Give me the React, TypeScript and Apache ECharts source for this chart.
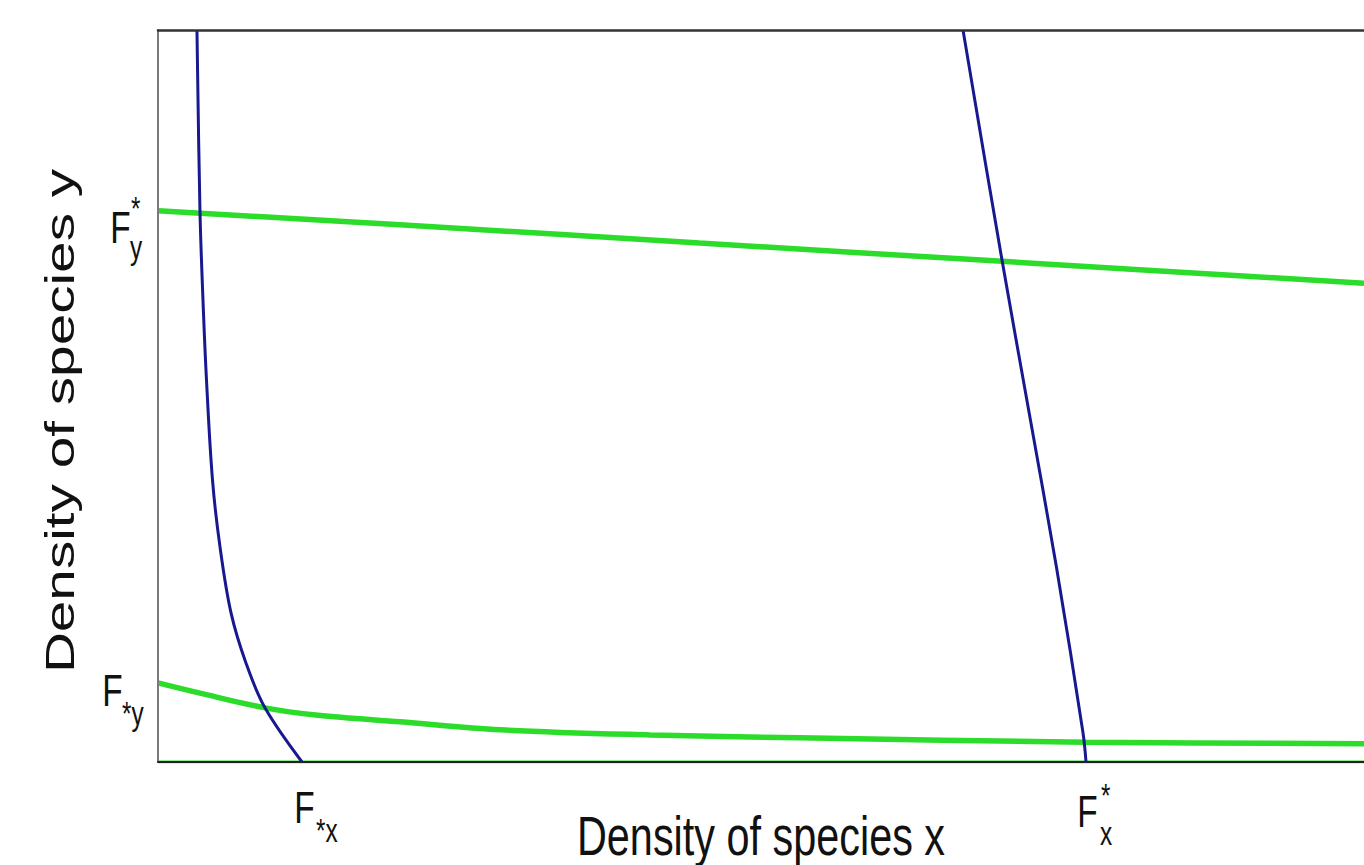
import React, { useEffect, useRef } from "react";
import * as echarts from "echarts";

// ---- Data (density units, both axes 0..100) ----
const xNullclineHigh: number[][] = [
  [3.23, 100], [3.48, 75.3], [3.73, 63.1], [4.02, 52.2], [4.52, 38.5],
  [5.14, 29.4], [6.05, 20.4], [7.3, 13.5], [8.87, 7.4], [11.94, 0],
];
const xNullclineLow: number[][] = [
  [66.75, 100], [69.98, 68.6], [72.3, 47.1], [74.5, 26.6], [76.7, 4.0], [76.95, 0],
];
const yNullclineHigh: number[][] = [
  [0, 75.3], [20.07, 73.4], [44.9, 70.9], [70.0, 68.4], [100, 65.4],
];
const yNullclineLow: number[][] = [
  [0, 10.8], [3.48, 9.4], [8.87, 7.4], [13.27, 6.4], [20.07, 5.5], [28.4, 4.4],
  [40.8, 3.7], [53.2, 3.3], [76.95, 2.7], [100, 2.5],
];
const yNullclineZero: number[][] = [[0, 0], [100, 0]];

// tick values and label parts
const xTickValues = [11.94, 76.95];
const xTickMain = ["F", "F"];
const xTickSup = ["", "*"];
const xTickSub = ["*x", "x"];
const yTickValues = [75.3, 10.8];
const yTickMain = ["F", "F"];
const yTickSup = ["*", ""];
const yTickSub = ["y", "*y"];

const xTitle = "Density of species x";
const yTitle = "Density of species y";

// ---- layout / style ----
const FONT = "'Liberation Sans', Arial, Helvetica, sans-serif";
const VS = 1.34; // vertical stretch of texts
const MAIN_SIZE = 33.4;
const SUB_SIZE = 24.4;
const CENTRAL = 0.3465;
const BLUE = "#181890";
const GREEN = "#2bdc2b";

// offsets: [dx, baselineDy] relative to tick pixel (x labels: from tick x / axis bottom; y labels: from axis left / tick y)
const xLabelLayout = [
  { main: [-7.7, 61], sup: [0, 0], sub: [14, 80] },
  { main: [-8.7, 65], sup: [15, 45], sub: [14, 83] },
];
const yLabelLayout = [
  { main: [-47.7, 32], sup: [-27, 9], sub: [-28, 48] },
  { main: [-55.7, 23], sup: [0, 0], sub: [-36, 42] },
];

function txt(text: string, x: number, baseline: number, size: number, extra: any = {}) {
  return {
    type: "text",
    x,
    y: baseline - CENTRAL * size * VS,
    scaleY: VS,
    silent: true,
    style: {
      text,
      fontSize: size,
      fontFamily: FONT,
      fill: "#111",
      align: "left",
      verticalAlign: "middle",
      textAlign: "left",
      textVerticalAlign: "middle",
    },
    ...extra,
  };
}

export default function App() {
  const ref = useRef<HTMLDivElement>(null);
  useEffect(() => {
    document.body.style.margin = "0";
    if (!ref.current) return;
    const chart = echarts.init(ref.current, null, { renderer: "svg" });
    const lineSeries = (name: string, data: number[][], color: string, width: number) => ({
      name,
      type: "line",
      data,
      smooth: 0.35,
      symbol: "none",
      showSymbol: false,
      clip: true,
      lineStyle: { color, width },
      itemStyle: { color },
    });
    chart.setOption({
      animation: false,
      backgroundColor: "#fff",
      grid: { left: 158, top: 30, right: 0, bottom: 103 },
      xAxis: [
        {
          type: "value", min: 0, max: 100, position: "bottom", z: 5,
          axisLine: { show: true, onZero: false, lineStyle: { color: "#222", width: 2 } },
          axisTick: { show: false }, axisLabel: { show: false }, splitLine: { show: false },
        },
        {
          type: "value", min: 0, max: 100, position: "top", z: 5,
          axisLine: { show: true, onZero: false, lineStyle: { color: "#333", width: 2.5 } },
          axisTick: { show: false }, axisLabel: { show: false }, splitLine: { show: false },
        },
      ],
      yAxis: {
        type: "value", min: 0, max: 100, z: 5,
        axisLine: { show: true, onZero: false, lineStyle: { color: "#7a7a7a", width: 2 } },
        axisTick: { show: false }, axisLabel: { show: false }, splitLine: { show: false },
      },
      series: [
        lineSeries("y-nullcline (y=0)", yNullclineZero, GREEN, 3),
        lineSeries("y-nullcline upper", yNullclineHigh, GREEN, 5.5),
        lineSeries("y-nullcline lower", yNullclineLow, GREEN, 5.5),
        lineSeries("x-nullcline left", xNullclineHigh, BLUE, 3),
        lineSeries("x-nullcline right", xNullclineLow, BLUE, 3),
      ],
    });

    const graphics: any[] = [];
    const origin = chart.convertToPixel({ gridIndex: 0 }, [0, 0]) as number[];
    const axisLeft = origin[0];
    const axisBottom = origin[1];
    xTickValues.forEach((v, i) => {
      const px = (chart.convertToPixel({ gridIndex: 0 }, [v, 0]) as number[])[0];
      const L = xLabelLayout[i];
      graphics.push(txt(xTickMain[i], px + L.main[0], axisBottom + L.main[1], MAIN_SIZE));
      if (xTickSup[i]) graphics.push(txt(xTickSup[i], px + L.sup[0], axisBottom + L.sup[1], SUB_SIZE));
      if (xTickSub[i]) graphics.push(txt(xTickSub[i], px + L.sub[0], axisBottom + L.sub[1], SUB_SIZE));
    });
    yTickValues.forEach((v, i) => {
      const py = (chart.convertToPixel({ gridIndex: 0 }, [0, v]) as number[])[1];
      const L = yLabelLayout[i];
      graphics.push(txt(yTickMain[i], axisLeft + L.main[0], py + L.main[1], MAIN_SIZE));
      if (yTickSup[i]) graphics.push(txt(yTickSup[i], axisLeft + L.sup[0], py + L.sup[1], SUB_SIZE));
      if (yTickSub[i]) graphics.push(txt(yTickSub[i], axisLeft + L.sub[0], py + L.sub[1], SUB_SIZE));
    });
    // axis titles
    const TITLE_SIZE = 41.4;
    const rightEdge = (chart.convertToPixel({ gridIndex: 0 }, [100, 100]) as number[]);
    const midX = (axisLeft + rightEdge[0]) / 2;
    const midY = 421;
    graphics.push({
      type: "text",
      x: midX,
      y: 855 - CENTRAL * TITLE_SIZE * VS,
      scaleY: VS,
      silent: true,
      style: {
        text: xTitle, fontSize: TITLE_SIZE, fontFamily: FONT, fill: "#111",
        align: "center", verticalAlign: "middle", textAlign: "center", textVerticalAlign: "middle",
      },
    });
    graphics.push({
      type: "text",
      x: 74 - CENTRAL * TITLE_SIZE,
      y: midY,
      rotation: Math.PI / 2,
      scaleX: 1.37,
      silent: true,
      style: {
        text: yTitle, fontSize: TITLE_SIZE, fontFamily: FONT, fill: "#111",
        align: "center", verticalAlign: "middle", textAlign: "center", textVerticalAlign: "middle",
      },
    });
    chart.setOption({ graphic: graphics });

    return () => chart.dispose();
  }, []);
  return <div ref={ref} style={{ width: 1364, height: 865 }} />;
}
